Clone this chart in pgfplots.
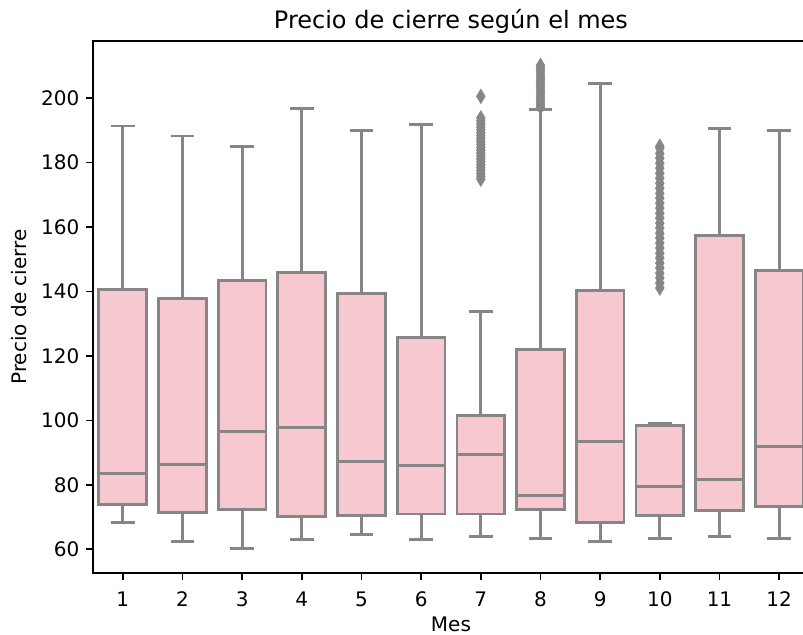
\documentclass[border=0pt]{standalone}
\usepackage{fontspec}
\setmainfont{DejaVu Sans}
\usepackage{pgfplots}
\pgfplotsset{compat=1.18}
\usepgfplotslibrary{statistics}
\definecolor{bxgray}{RGB}{134,134,134}
\definecolor{bxfill}{RGB}{247,200,208}
\pgfplotsset{
  mybox/.style={
    draw=bxgray, line width=1.8pt, solid,
    mark=diamond*, mark size=4.6pt,
    mark options={fill=bxgray, draw=bxgray, line width=0.3pt, xscale=0.8},
    boxplot/box extend=0.8,
    boxplot/whisker extend=0.4,
    boxplot/every box/.style={draw=bxgray, fill=bxfill, line width=1.8pt},
    boxplot/every whisker/.style={draw=bxgray, line width=1.8pt},
    boxplot/every median/.style={draw=bxgray, line width=1.8pt},
  }
}
\begin{document}
\begin{tikzpicture}
\begin{axis}[
  scale only axis, width=447.5pt, height=332.5pt,
  xmin=0.5, xmax=12.5, ymin=52.6, ymax=217.8,
  xtick={1,2,3,4,5,6,7,8,9,10,11,12},
  ytick={60,80,100,120,140,160,180,200},
  tick align=outside, major tick length=4.375pt,
  xtick pos=left, ytick pos=left,
  tick style={line width=1pt, black},
  axis line style={line width=1pt, black},
  /pgf/number format/assume math mode=true,
  ticklabel style={font=\fontsize{12.5}{15}\selectfont, inner sep=0pt},
  xticklabel style={anchor=north, yshift=-7.3pt},
  yticklabel style={anchor=east, xshift=-4pt},
  title={Precio de cierre según el mes},
  every axis title/.style={at={(rel axis cs:0.5,1)}, anchor=base, yshift=8pt, font=\fontsize{15}{18}\selectfont},
  xlabel={Mes},
  every axis x label/.style={at={(rel axis cs:0.5,0)}, anchor=base, yshift=-36.7pt, font=\fontsize{12.5}{15}\selectfont},
  ylabel={Precio de cierre},
  every axis y label/.style={at={(rel axis cs:0,0.5)}, xshift=-41.4pt, rotate=90, anchor=base, font=\fontsize{12.5}{15}\selectfont},
  boxplot/draw direction=y,
]
\coordinate (SW) at (rel axis cs:0,0);
\addplot[mybox, boxplot prepared={draw position=1, lower whisker=68.2, lower quartile=74.0, median=83.5, upper quartile=140.7, upper whisker=191.4}] coordinates {};
\addplot[mybox, boxplot prepared={draw position=2, lower whisker=62.3, lower quartile=71.3, median=86.2, upper quartile=137.7, upper whisker=188.3}] coordinates {};
\addplot[mybox, boxplot prepared={draw position=3, lower whisker=60.2, lower quartile=72.4, median=96.5, upper quartile=143.5, upper whisker=185.1}] coordinates {};
\addplot[mybox, boxplot prepared={draw position=4, lower whisker=62.9, lower quartile=70.1, median=97.7, upper quartile=145.8, upper whisker=196.8}] coordinates {};
\addplot[mybox, boxplot prepared={draw position=5, lower whisker=64.6, lower quartile=70.4, median=87.2, upper quartile=139.5, upper whisker=190.1}] coordinates {};
\addplot[mybox, boxplot prepared={draw position=6, lower whisker=62.9, lower quartile=70.9, median=86.1, upper quartile=125.7, upper whisker=191.9}] coordinates {};
\addplot[mybox, boxplot prepared={draw position=7, lower whisker=63.8, lower quartile=70.9, median=89.3, upper quartile=101.4, upper whisker=133.7}] table[row sep=\\, y index=0] {
174.9\\ 175.8\\ 176.7\\ 177.6\\ 178.5\\ 179.4\\ 180.3\\ 181.2\\ 182.1\\ 183.0\\ 183.9\\ 184.8\\ 185.7\\ 186.6\\ 187.5\\ 188.4\\ 189.3\\ 190.2\\ 191.1\\ 192.0\\ 193.0\\ 193.9\\ 200.6\\
};
\addplot[mybox, boxplot prepared={draw position=8, lower whisker=63.3, lower quartile=72.4, median=76.6, upper quartile=121.9, upper whisker=196.4}] table[row sep=\\, y index=0] {
197.2\\ 198.0\\ 198.9\\ 199.7\\ 200.6\\ 201.5\\ 202.3\\ 203.2\\ 204.0\\ 204.9\\ 205.8\\ 206.6\\ 207.5\\ 208.4\\ 209.3\\ 210.2\\
};
\addplot[mybox, boxplot prepared={draw position=9, lower whisker=62.3, lower quartile=68.2, median=93.3, upper quartile=140.3, upper whisker=204.7}] coordinates {};
\addplot[mybox, boxplot prepared={draw position=10, lower whisker=63.3, lower quartile=70.5, median=79.4, upper quartile=98.4, upper whisker=98.9}] table[row sep=\\, y index=0] {
141.1\\ 142.6\\ 144.2\\ 145.7\\ 147.3\\ 148.8\\ 150.4\\ 151.9\\ 153.5\\ 155.0\\ 156.6\\ 158.1\\ 159.7\\ 161.2\\ 162.8\\ 164.3\\ 165.9\\ 167.4\\ 169.0\\ 170.5\\ 172.1\\ 173.6\\ 175.2\\ 176.7\\ 178.3\\ 179.8\\ 181.4\\ 182.9\\ 184.5\\ 185.1\\
};
\addplot[mybox, boxplot prepared={draw position=11, lower whisker=63.8, lower quartile=71.9, median=81.7, upper quartile=157.3, upper whisker=190.5}] coordinates {};
\addplot[mybox, boxplot prepared={draw position=12, lower whisker=63.3, lower quartile=73.2, median=91.8, upper quartile=146.5, upper whisker=189.9}] coordinates {};
\end{axis}
\pgfresetboundingbox
\path ([xshift=-58.1pt,yshift=-38.75pt]SW) rectangle ([xshift=443.75pt,yshift=358.1pt]SW);
\end{tikzpicture}
\end{document}
